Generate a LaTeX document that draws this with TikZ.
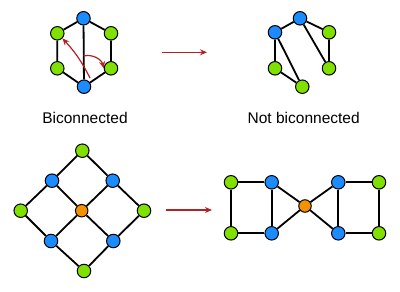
\documentclass[tikz,border=0pt]{standalone}
\usepackage{fontspec}
\setmainfont{Liberation Sans}
\usetikzlibrary{arrows.meta}
\definecolor{gn}{HTML}{80E000}
\definecolor{bl}{HTML}{1A8CFF}
\definecolor{og}{HTML}{F39200}
\definecolor{rd}{HTML}{B22222}
\tikzset{
  vtx/.style={circle,draw=black,line width=1pt,minimum size=13.5pt,inner sep=0pt},
  gv/.style={vtx,fill=gn},
  bv/.style={vtx,fill=bl},
  ov/.style={vtx,fill=og,minimum size=12.5pt},
  ed/.style={line width=1.8pt},
  redarr/.style={rd,line width=1.2pt,-{Stealth[length=7pt,width=6pt]}},
  lab/.style={font=\fontsize{15.5}{18}\selectfont}
}
\begin{document}
\begin{tikzpicture}[x=1pt,y=-1pt]
\useasboundingbox (0,0) rectangle (400,292);
% biconnected hexagon
\node[bv] (ht) at (83.5,18.3) {};
\node[gv] (hul) at (57.3,33.3) {};
\node[gv] (hur) at (111,33.3) {};
\node[gv] (hll) at (57.3,68.3) {};
\node[gv] (hlr) at (111,68.3) {};
\node[bv] (hb) at (84,86.7) {};
\draw[ed] (ht) -- (hul) -- (hll) -- (hb) -- (hlr) -- (hur) -- (ht) -- (hb);
\coordinate (a1) at (90,78);
\coordinate (a2) at (83.5,56);
\draw[redarr] (a1) to[bend right=8] (hul.south east);
\draw[redarr] (a2) to[bend left=45] (hlr.west);
% not biconnected
\node[bv] (nt) at (300,18.3) {};
\node[bv] (nl) at (275,32.3) {};
\node[gv] (nr) at (329,32.3) {};
\node[gv] (nll) at (275,68.3) {};
\node[gv] (nlr) at (329,68.3) {};
\node[gv] (nb) at (302.3,86.7) {};
\draw[ed] (nr) -- (nt) -- (nl) -- (nll) -- (nb) -- (nl);
\draw[ed] (nt) -- (nlr) -- (nr);
\node[lab] (l1) at (85,118.3) {Biconnected};
\node[lab] (l2) at (303.7,118.3) {Not biconnected};
\coordinate (u1) at (161.7,52.3);
\coordinate (u2) at (207,52.3);
\draw[redarr] (u1) -- (u2);
% diamond
\node[gv] (dt) at (82.3,150.7) {};
\node[bv] (dul) at (52,180.7) {};
\node[bv] (dur) at (112.7,180.7) {};
\node[gv] (dl) at (20.7,210.7) {};
\node[ov] (dc) at (81.7,210.7) {};
\node[gv] (dr) at (144,210.7) {};
\node[bv] (dll) at (51,241) {};
\node[bv] (dlr) at (113.3,241) {};
\node[gv] (db) at (84,271) {};
\draw[ed] (dl) -- (dul) -- (dt) -- (dur) -- (dr) -- (dlr) -- (db) -- (dll) -- (dl);
\draw[ed] (dul) -- (dc) -- (dlr);
\draw[ed] (dur) -- (dc) -- (dll);
\coordinate (v1) at (166,210);
\coordinate (v2) at (212,210);
\draw[redarr] (v1) -- (v2);
% bow tie
\node[gv] (ba) at (231,182.3) {};
\node[bv] (bb) at (271.7,182.3) {};
\node[gv] (bc) at (231,233.3) {};
\node[bv] (bd) at (271.7,233.3) {};
\node[ov] (bo) at (305,206) {};
\node[bv] (be) at (338.3,182.3) {};
\node[gv] (bf) at (379,182.3) {};
\node[bv] (bg) at (338.3,233.3) {};
\node[gv] (bh) at (379,233.3) {};
\draw[ed] (ba) -- (bb) -- (bd) -- (bc) -- (ba);
\draw[ed] (bb) -- (bo) -- (bd);
\draw[ed] (be) -- (bo) -- (bg);
\draw[ed] (be) -- (bf) -- (bh) -- (bg) -- (be);
\end{tikzpicture}
\end{document}
